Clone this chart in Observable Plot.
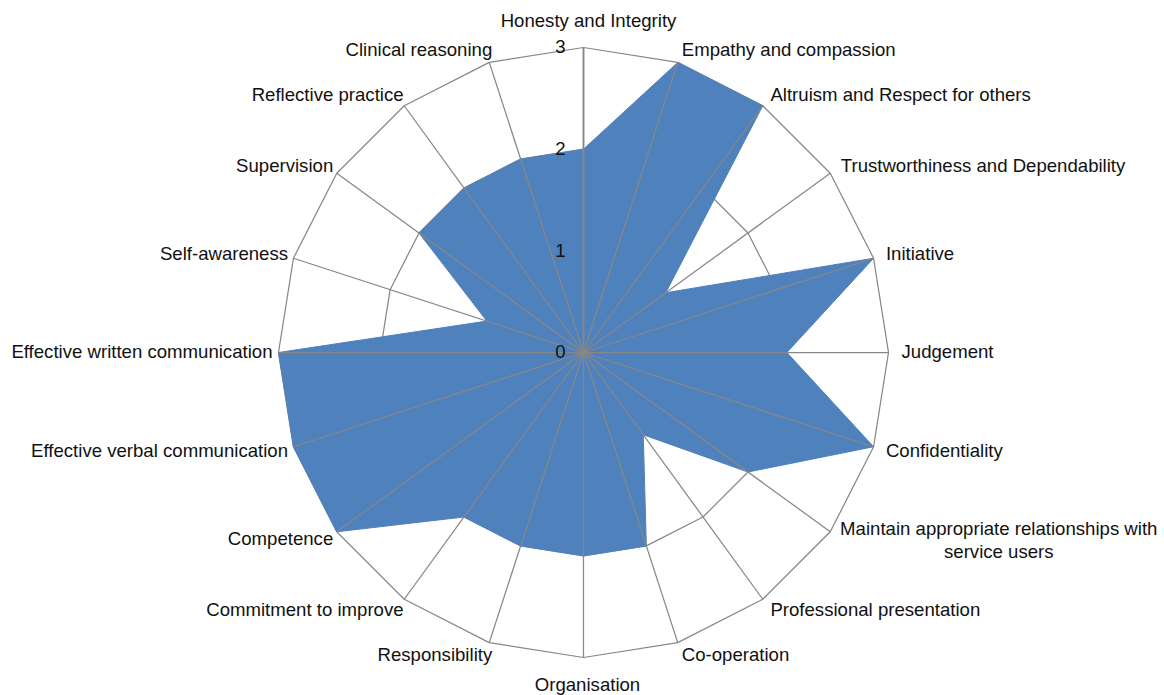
<!DOCTYPE html>
<html>
<head>
<meta charset="utf-8">
<script src="https://cdn.jsdelivr.net/npm/d3@7"></script>
<script src="https://cdn.jsdelivr.net/npm/@observablehq/plot@0.6"></script>
<style>
  html, body { margin: 0; padding: 0; background: #fff; }
  #chart { width: 1164px; height: 695px; }
  svg { font-family: "Liberation Sans", Arial, Helvetica, sans-serif; }
</style>
</head>
<body>
<div id="chart"></div>
<script>
// ---- data ----
const categories = [
  "Honesty and Integrity",
  "Empathy and compassion",
  "Altruism and Respect for others",
  "Trustworthiness and Dependability",
  "Initiative",
  "Judgement",
  "Confidentiality",
  "Maintain appropriate relationships with\nservice users",
  "Professional presentation",
  "Co-operation",
  "Organisation",
  "Responsibility",
  "Commitment to improve",
  "Competence",
  "Effective verbal communication",
  "Effective written communication",
  "Self-awareness",
  "Supervision",
  "Reflective practice",
  "Clinical reasoning"
];
const values = [2, 3, 3, 1, 3, 2, 3, 2, 1, 2, 2, 2, 2, 3, 3, 3, 1, 2, 2, 2];
const tickValues = [0, 1, 2, 3];
const maxValue = 3;

// ---- layout ----
const W = 1164, H = 695;
const cx = 583, cy = 352;       // centre in px
const K = 305 / maxValue;       // px per unit
const labelR = maxValue + 13 / K;
const FS = 18.6;

const n = categories.length;
const ang = i => (i * 2 * Math.PI) / n;
const px = (r, i) => r * Math.sin(ang(i));
const py = (r, i) => r * Math.cos(ang(i));

const poly = values.map((v, i) => ({x: px(v, i), y: py(v, i)}));
const rings = tickValues.filter(t => t > 0).flatMap(t =>
  categories.map((c, i) => ({level: t, x: px(t, i), y: py(t, i)})));
const spokes = categories.map((c, i) => ({i, x: px(maxValue, i), y: py(maxValue, i)}));
const labels = categories.map((c, i) => ({i, label: c, x: px(labelR, i), y: py(labelR, i)}));

const half = n / 2;
const rightLabels = labels.filter(d => d.i > 0 && d.i < half && d.i !== 7);
const leftLabels = labels.filter(d => d.i > half);
const topLabels = labels.filter(d => d.i === 0);
const bottomLabels = labels.filter(d => d.i === half);
const wrapLabels = labels.filter(d => d.i === 7);

const grid = "#878787";
const textColor = "#111";

const chart = Plot.plot({
  width: W,
  height: H,
  margin: 0,
  style: {fontFamily: '"Liberation Sans", Arial, Helvetica, sans-serif', background: "#fff"},
  x: {domain: [-cx / K, (W - cx) / K], axis: null},
  y: {domain: [-(H - cy) / K, cy / K], axis: null},
  marks: [
    Plot.line(rings, {x: "x", y: "y", z: "level", stroke: grid, strokeWidth: 1.25, curve: "linear-closed"}),
    Plot.line(poly, {x: "x", y: "y", fill: "#4f81bd", stroke: "#4f81bd", strokeWidth: 1, curve: "linear-closed"}),
    Plot.link(spokes, {x1: d => 0, y1: d => 0, x2: "x", y2: "y", stroke: grid, strokeWidth: 1.25}),
    Plot.link(spokes.filter(d => d.i === 0), {x1: d => 0, y1: d => 0, x2: "x", y2: "y", stroke: grid, strokeWidth: 1.75}),
    Plot.text(tickValues, {x: d => 0, y: d => d, text: d => String(d), textAnchor: "end", dx: -18, fontSize: FS, fill: textColor}),
    Plot.text(rightLabels, {x: "x", y: "y", text: "label", textAnchor: "start", fontSize: FS, fill: textColor}),
    Plot.text(leftLabels, {x: "x", y: "y", text: "label", textAnchor: "end", dx: 7, fontSize: FS, fill: textColor}),
    Plot.text(topLabels, {x: "x", y: "y", text: "label", textAnchor: "middle", lineAnchor: "bottom", dx: 5, dy: -8, fontSize: FS, fill: textColor}),
    Plot.text(bottomLabels, {x: "x", y: "y", text: "label", textAnchor: "middle", lineAnchor: "top", dx: 4, dy: 7, fontSize: FS, fill: textColor}),
    Plot.text(wrapLabels, {x: "x", y: "y", text: "label", textAnchor: "middle", dx: 158, lineHeight: 1.19, fontSize: FS, fill: textColor})
  ]
});
document.getElementById("chart").appendChild(chart);
</script>
</body>
</html>
